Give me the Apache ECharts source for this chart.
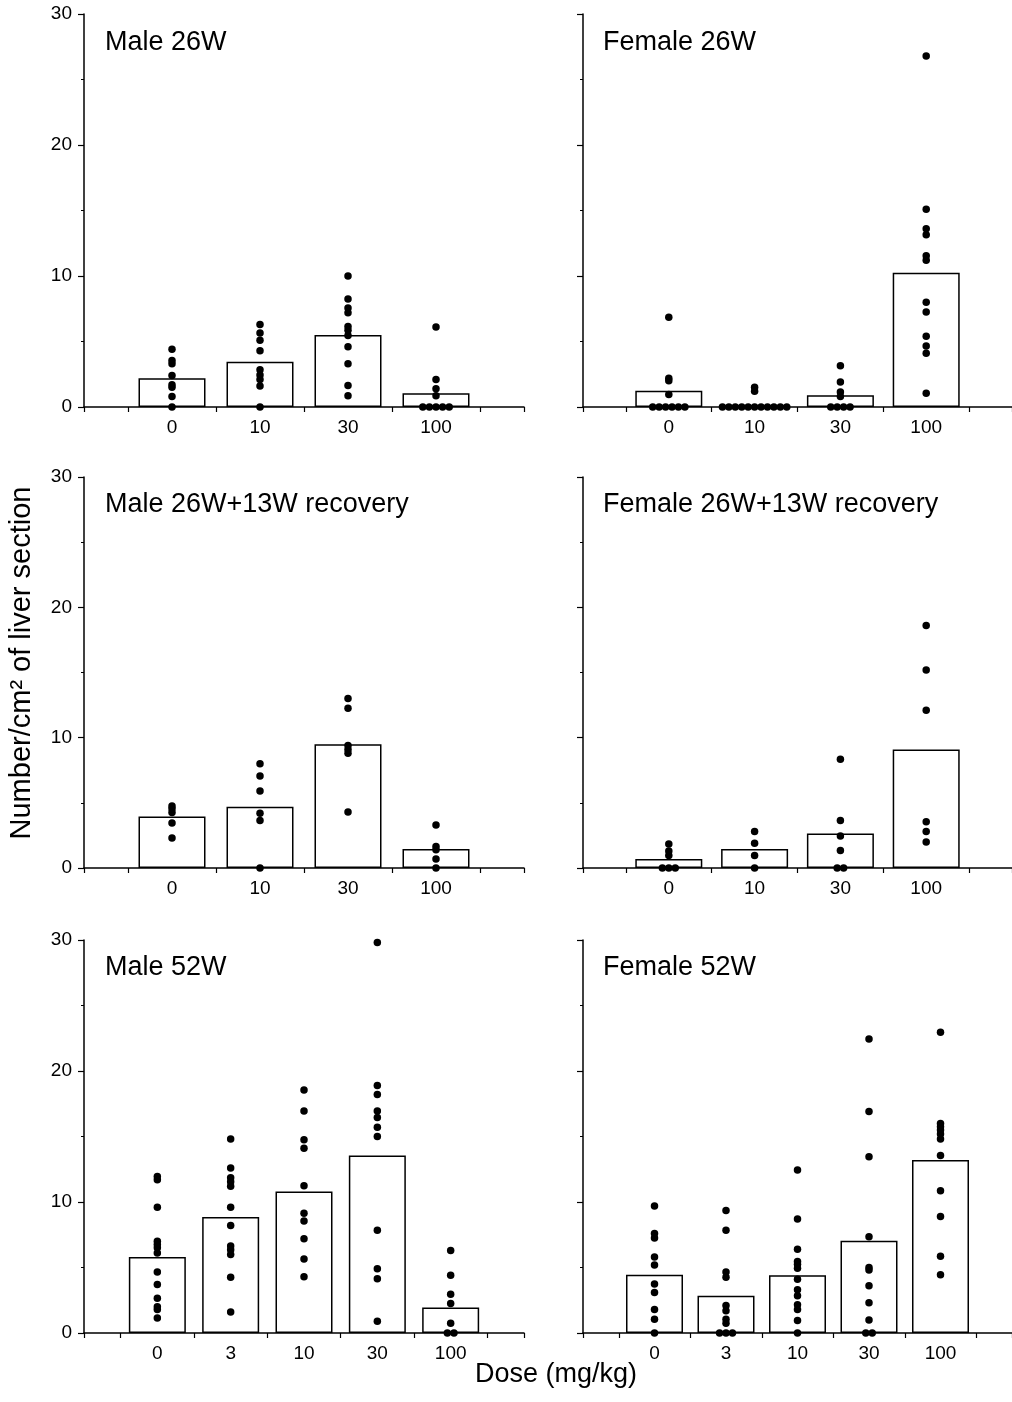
<!DOCTYPE html>
<html>
<head>
<meta charset="utf-8">
<title>Number per cm2 of liver section by dose</title>
<script src="https://cdn.jsdelivr.net/npm/echarts@6/dist/echarts.min.js"></script>
<style type="text/css">
  body{margin:0;background:#fff;}
  div#chart{width:1012px;height:1402px;}
</style>
</head>
<body>
<div id="chart"></div>
<script type="text/javascript">
// dose groups (mg/kg)
var doses4 = ['0', '10', '30', '100'];
var doses5 = ['0', '3', '10', '30', '100'];
var yTicks = [0, 10, 20, 30];

// group means (bar heights)
var meanM26 = [2.2, 3.45, 5.5, 1.05];
var meanF26 = [1.25, 0.15, 0.9, 10.25];
var meanMR = [3.95, 4.7, 9.5, 1.45];
var meanFR = [0.7, 1.45, 2.65, 9.1];
var meanM52 = [5.8, 8.85, 10.8, 13.55, 1.95];
var meanF52 = [4.45, 2.85, 4.4, 7.05, 13.2];

// individual animals
var dotsM26 = [
  [4.4, 3.55, 3.3, 2.4, 1.7, 1.5, 0.8, 0],
  [6.3, 5.65, 5.1, 4.3, 2.85, 2.45, 2.1, 1.6, 0],
  [10.0, 8.25, 7.55, 7.2, 6.15, 5.85, 5.45, 4.6, 3.3, 1.65, 0.85],
  [6.1, 2.1, 1.4, 0.85, 0, 0, 0, 0, 0]
];
var dotsF26 = [
  [6.85, 2.2, 2.0, 0.95, 0, 0, 0, 0, 0, 0],
  [1.5, 1.2, 0, 0, 0, 0, 0, 0, 0, 0, 0, 0, 0],
  [3.15, 1.9, 1.15, 0.8, 0, 0, 0, 0],
  [26.8, 15.1, 13.6, 13.15, 11.55, 11.2, 8.0, 7.25, 5.4, 4.65, 4.1, 1.05]
];
var dotsMR = [
  [4.75, 4.55, 4.25, 3.45, 2.3],
  [8.0, 7.05, 5.9, 4.2, 3.65, 0],
  [13.0, 12.25, 9.4, 9.1, 8.8, 4.3],
  [3.3, 1.65, 1.4, 0.7, 0]
];
var dotsFR = [
  [1.85, 1.3, 0.95, 0, 0, 0],
  [2.8, 1.9, 0.95, 0],
  [8.35, 3.65, 2.45, 1.35, 0, 0],
  [18.6, 15.2, 12.1, 3.55, 2.8, 2.0]
];
var dotsM52 = [
  [11.95, 11.7, 9.6, 7.0, 6.75, 6.5, 6.1, 4.65, 3.7, 2.65, 2.0, 1.8, 1.15],
  [14.8, 12.6, 11.85, 11.55, 11.2, 9.6, 8.2, 6.65, 6.35, 6.0, 4.25, 1.6],
  [18.55, 16.95, 14.75, 14.1, 11.25, 9.15, 8.55, 7.2, 5.65, 4.3],
  [29.8, 18.9, 18.2, 16.95, 16.45, 15.7, 15.0, 7.85, 4.9, 4.15, 0.9],
  [6.3, 4.4, 2.95, 2.25, 0.75, 0, 0]
];
var dotsF52 = [
  [9.7, 7.6, 7.25, 5.8, 5.2, 3.75, 3.1, 1.8, 1.05, 0],
  [9.35, 7.85, 4.65, 4.25, 2.1, 1.7, 1.05, 0.75, 0, 0, 0],
  [12.45, 8.7, 6.4, 5.45, 5.25, 4.95, 4.1, 3.3, 2.85, 2.15, 1.8, 0.95, 0],
  [22.45, 16.9, 13.45, 7.35, 5.0, 4.8, 3.6, 2.3, 1.0, 0, 0],
  [22.95, 16.0, 15.75, 15.5, 15.2, 14.8, 13.55, 10.85, 8.9, 5.85, 4.45]
];

var panels = [
  {title: 'Male 26W', doses: doses4, means: meanM26, dots: dotsM26},
  {title: 'Female 26W', doses: doses4, means: meanF26, dots: dotsF26},
  {title: 'Male 26W+13W recovery', doses: doses4, means: meanMR, dots: dotsMR},
  {title: 'Female 26W+13W recovery', doses: doses4, means: meanFR, dots: dotsFR},
  {title: 'Male 52W', doses: doses5, means: meanM52, dots: dotsM52},
  {title: 'Female 52W', doses: doses5, means: meanF52, dots: dotsF52}
];

var FONT = '"Liberation Sans", Arial, sans-serif';
var colLeft = [84, 583];
var rowTop = [14, 477, 940];
var rowH = [393, 391, 393];
var gridW = 440;

var grids = [], xAxes = [], yAxes = [], series = [], graphics = [];

panels.forEach(function (p, i) {
  var col = i % 2, row = Math.floor(i / 2);
  var n = p.doses.length;
  grids.push({left: colLeft[col], top: rowTop[row], width: gridW, height: rowH[row]});

  var ticks = [0];
  for (var k = 0; k <= n; k++) ticks.push(k + 0.5);
  ticks.push(n + 1);
  var labelPos = p.doses.map(function (d, k) { return k + 1; });

  xAxes.push({
    type: 'value', gridIndex: i, min: 0, max: n + 1,
    axisLine: {show: true, onZero: false, lineStyle: {color: '#000', width: 1.5}},
    axisTick: {show: true, length: 5, customValues: ticks, lineStyle: {color: '#000', width: 1.2}},
    axisLabel: {
      show: true, customValues: labelPos, margin: 11,
      color: '#000', fontSize: 19, fontFamily: FONT,
      formatter: (function (d) { return function (v) { return d[Math.round(v) - 1]; }; })(p.doses)
    },
    splitLine: {show: false}
  });

  yAxes.push({
    type: 'value', gridIndex: i, min: 0, max: 30, interval: 10,
    axisLine: {show: true, onZero: false, lineStyle: {color: '#000', width: 1.5}},
    axisTick: {show: true, length: 6, lineStyle: {color: '#000', width: 1.2}},
    minorTick: {show: true, splitNumber: 2, length: 3, lineStyle: {color: '#000', width: 1}},
    axisLabel: {
      show: col === 0, margin: 12, color: '#000', fontSize: 19, fontFamily: FONT,
      customValues: yTicks
    },
    splitLine: {show: false}
  });

  // bars
  series.push({
    type: 'bar', xAxisIndex: i, yAxisIndex: i,
    barWidth: n === 4 ? 67 : 57,
    data: p.means.map(function (m, k) { return [k + 1, m]; }),
    itemStyle: {color: '#fff', borderColor: '#000', borderWidth: 1.5},
    z: 1, silent: true
  });

  // dots, tied values spread sideways
  var step = 6.6 * (n + 1) / gridW;
  var pts = [];
  p.dots.forEach(function (vals, k) {
    var count = {}, seen = {};
    vals.forEach(function (v) { count[v] = (count[v] || 0) + 1; });
    vals.forEach(function (v) {
      var j = seen[v] || 0;
      seen[v] = j + 1;
      pts.push([k + 1 + (j - (count[v] - 1) / 2) * step, v]);
    });
  });
  series.push({
    type: 'scatter', xAxisIndex: i, yAxisIndex: i,
    symbolSize: 7.5, data: pts,
    itemStyle: {color: '#000', opacity: 1},
    z: 3, silent: true
  });

  graphics.push({
    type: 'text', left: col === 0 ? 105 : 603, top: rowTop[row] + [15, 14, 14][row],
    style: {text: p.title, font: '27px ' + FONT, fill: '#000'}
  });
});

graphics.push({
  type: 'text', x: 22, y: 663, rotation: Math.PI / 2,
  style: {text: 'Number/cm² of liver section', font: '29px ' + FONT, fill: '#000',
    align: 'center', verticalAlign: 'middle'}
});
graphics.push({
  type: 'text', x: 556, y: 1375,
  style: {text: 'Dose (mg/kg)', font: '27px ' + FONT, fill: '#000',
    align: 'center', verticalAlign: 'middle'}
});

var myChart = echarts.init(document.getElementById('chart'));
myChart.setOption({
  animation: false,
  backgroundColor: '#fff',
  grid: grids,
  xAxis: xAxes,
  yAxis: yAxes,
  series: series,
  graphic: graphics
});
</script>
</body>
</html>
